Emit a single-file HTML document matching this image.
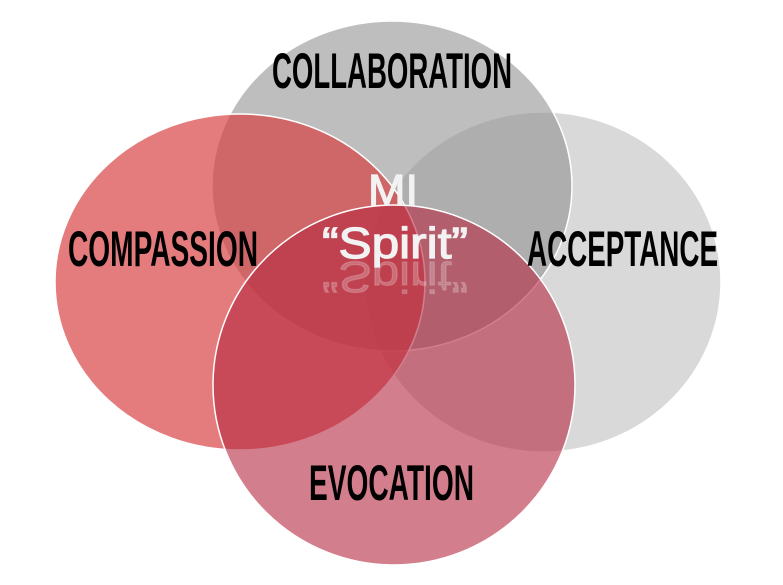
<!DOCTYPE html>
<html><head><style>html,body{margin:0;padding:0;background:#fff;width:783px;height:585px;overflow:hidden}</style></head>
<body>
<svg width="783" height="585" xmlns="http://www.w3.org/2000/svg">
<ellipse cx="543" cy="282" rx="178" ry="170" fill="#d9d9d9" stroke="#fff" stroke-width="1.5"/>
<ellipse cx="392" cy="186" rx="180" ry="165" fill="#8f8f8f" fill-opacity="0.58" stroke="#fff" stroke-width="1.5"/>
<ellipse cx="240" cy="282" rx="185" ry="168" fill="#d73c3e" fill-opacity="0.68" stroke="#fff" stroke-width="1.5"/>
<ellipse cx="394" cy="385" rx="181" ry="180" fill="#b6283f" fill-opacity="0.6" stroke="#fff" stroke-width="1.5"/>
<g font-family="Liberation Sans, sans-serif" font-weight="bold" fill="#000" font-size="50">
<text x="272" y="88" textLength="240" lengthAdjust="spacingAndGlyphs">COLLABORATION</text>
<text x="68" y="266" textLength="190" lengthAdjust="spacingAndGlyphs">COMPASSION</text>
<text x="527" y="266" textLength="191" lengthAdjust="spacingAndGlyphs">ACCEPTANCE</text>
<text x="309" y="500" textLength="165" lengthAdjust="spacingAndGlyphs">EVOCATION</text>
</g>
<g font-family="Liberation Sans, sans-serif" fill="#f2f2f2" stroke="#f2f2f2" stroke-width="1.2">
<text x="368" y="205" font-size="44" textLength="50" lengthAdjust="spacingAndGlyphs">MI</text>
<text x="322" y="258" font-size="44" textLength="146" lengthAdjust="spacingAndGlyphs">“Spirit”</text>
<text x="322" y="262" font-size="44" textLength="146" lengthAdjust="spacingAndGlyphs" transform="translate(0,524) scale(1,-1)" fill-opacity="0.25" stroke-opacity="0.2">“Spirit”</text>
</g>
</svg>
</body></html>
